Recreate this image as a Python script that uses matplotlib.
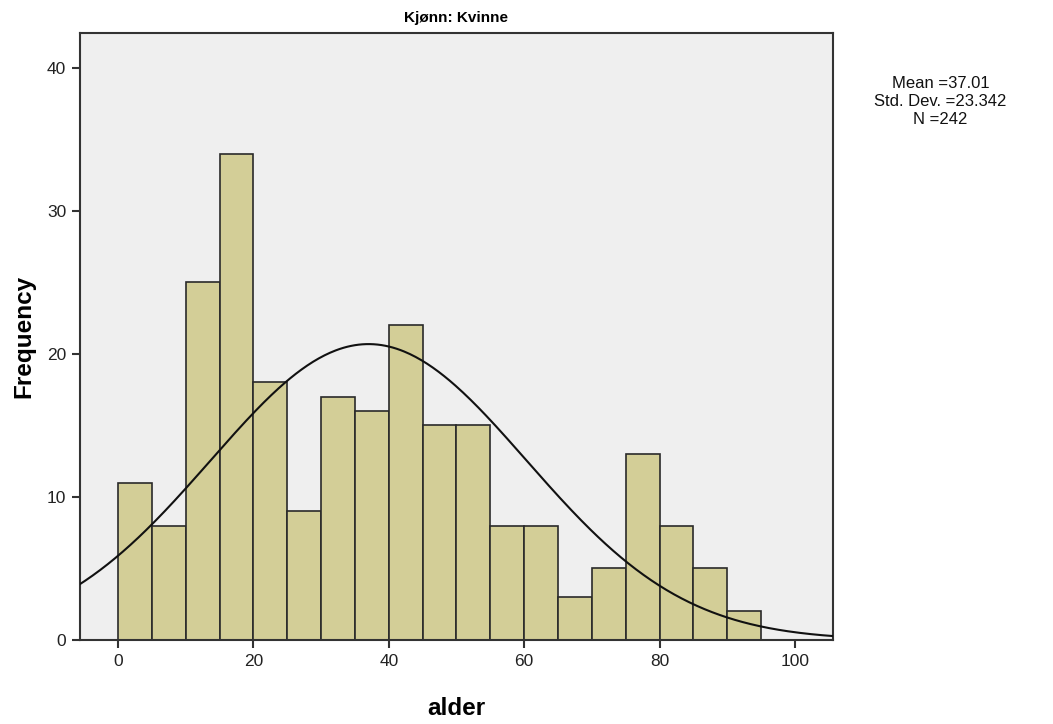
import matplotlib
matplotlib.use("Agg")
import matplotlib.pyplot as plt
import numpy as np

# bin edges of the age histogram (width 5)
bin_left = [0, 5, 10, 15, 20, 25, 30, 35, 40, 45, 50, 55, 60, 65, 70, 75, 80, 85, 90]
counts = [11, 8, 25, 34, 18, 9, 17, 16, 22, 15, 15, 8, 8, 3, 5, 13, 8, 5, 2]
bin_width = 5
mean = 37.01
std = 23.342
n = 242

plt.rcParams['font.family'] = ['Liberation Sans', 'DejaVu Sans']

fig = plt.figure(figsize=(10.53, 7.24), dpi=100)
ax = fig.add_axes([0.076, 0.116, 0.715, 0.838])
ax.set_facecolor('#efefef')

ax.bar(bin_left, counts, width=bin_width, align='edge',
       color='#d3ce97', edgecolor='#2a2a2a', linewidth=1.2, zorder=2)

# normal curve scaled to counts
xs = np.linspace(-6, 106, 400)
ys = n * bin_width / (std * np.sqrt(2 * np.pi)) * np.exp(-0.5 * ((xs - mean) / std) ** 2)
ax.plot(xs, ys, color='#111111', linewidth=1.5, zorder=3)

ax.set_xlim(-5.6, 105.6)
ax.set_ylim(0, 42.4)
ax.set_xticks([0, 20, 40, 60, 80, 100])
ax.set_yticks([0, 10, 20, 30, 40])
ax.tick_params(direction='out', length=6, width=1.5, color='#333333',
               labelsize=12.5, labelcolor='#222222', pad=4)
for s in ax.spines.values():
    s.set_color('#333333')
    s.set_linewidth(1.5)

ax.set_title('Kjønn: Kvinne', fontsize=11, fontweight='bold', pad=8)
ax.set_xlabel('alder', fontsize=17.5, fontweight='bold', labelpad=20)
ax.set_ylabel('Frequency', fontsize=17.5, fontweight='bold', labelpad=8)

fig.text(0.893, 0.860, 'Mean =37.01\nStd. Dev. =23.342\nN =242',
         ha='center', va='center', fontsize=12, linespacing=1.25, color='#111111')

fig.savefig('out.png', dpi=100)
